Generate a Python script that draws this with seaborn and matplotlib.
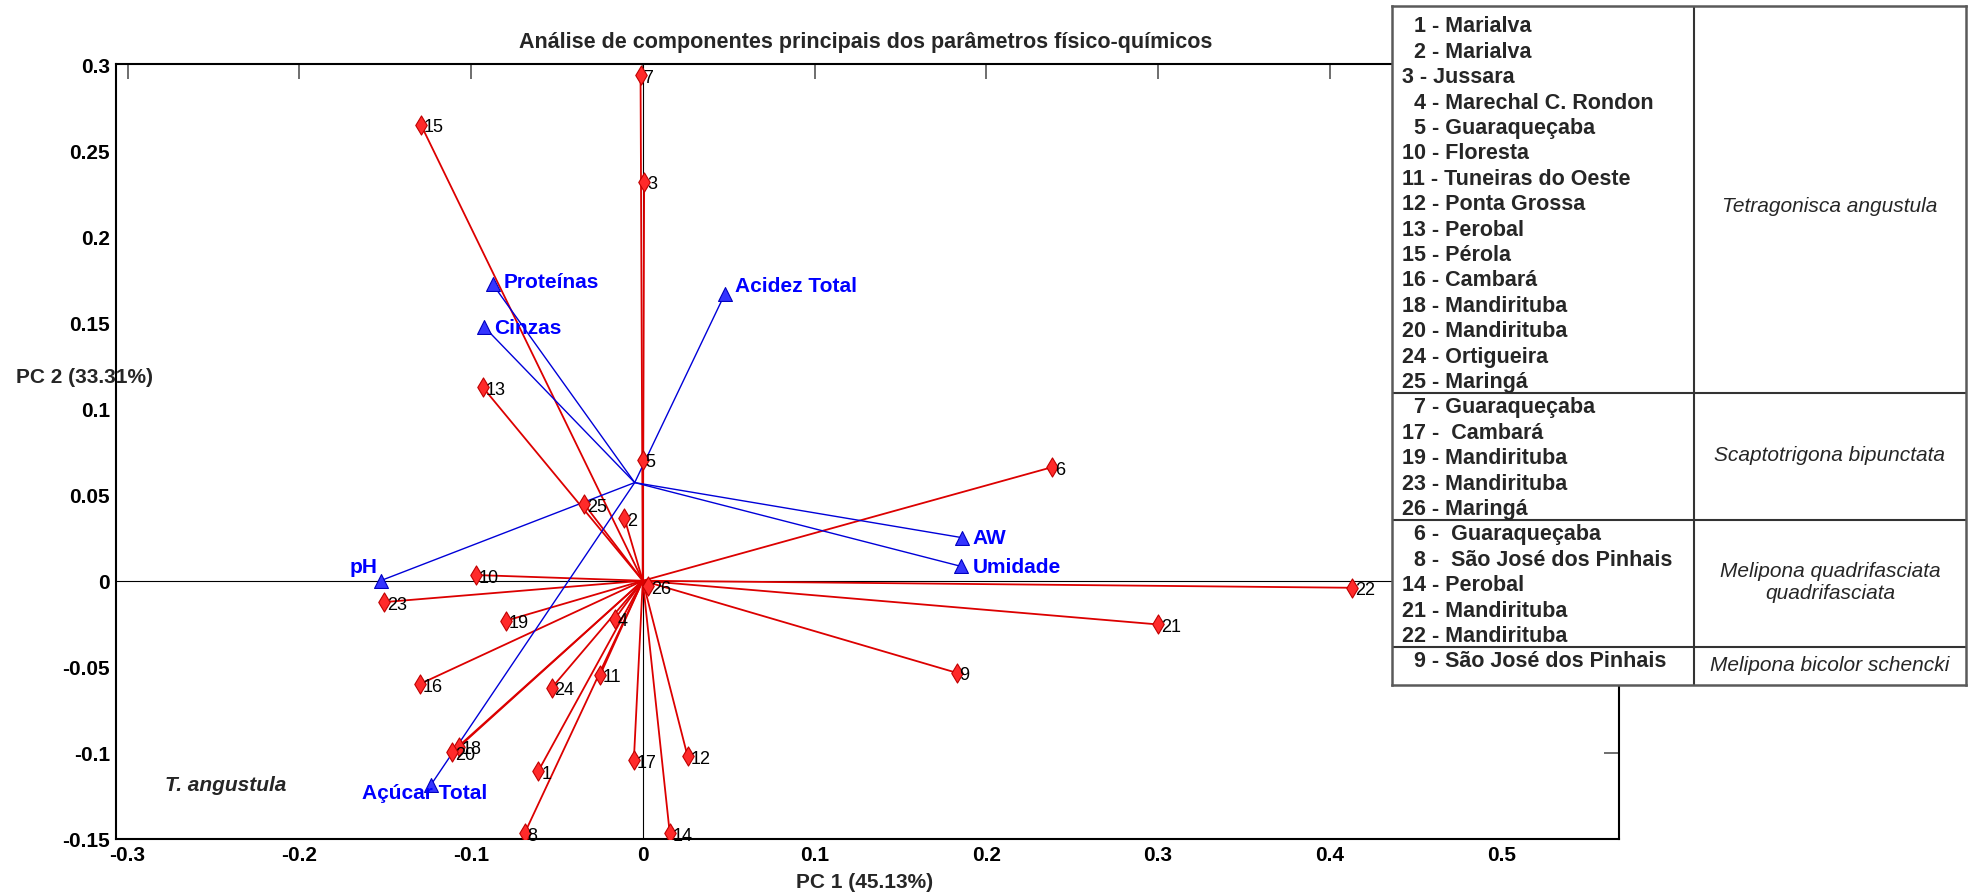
import matplotlib
matplotlib.use("Agg")
import matplotlib.pyplot as plt
import pandas as pd
import seaborn as sns

# ======================================================
# DATA
# ======================================================
SAMPLE_IDS = list(range(1, 27))
PC1 = [-0.0608, -0.0107, 0.0008, -0.0162, 0.0000, 0.2385, -0.0013, -0.0687,
       0.1828, -0.0971, -0.0248, 0.0261, -0.0932, 0.0157, -0.1292, -0.1300,
       -0.0052, -0.1070, -0.0799, -0.1110, 0.3000, 0.4130, -0.1504, -0.0530,
       -0.0342, 0.0031]
PC2 = [-0.1105, 0.0364, 0.2317, -0.0221, 0.0702, 0.0660, 0.2936, -0.1465,
       -0.0535, 0.0033, -0.0547, -0.1020, 0.1124, -0.1465, 0.2649, -0.0601,
       -0.1043, -0.0965, -0.0233, -0.0995, -0.0254, -0.0041, -0.0124, -0.0622,
       0.0446, -0.0031]

VAR_NAMES = ["Proteínas", "Cinzas", "Acidez Total", "pH", "AW", "Umidade", "Açúcar Total"]
VAR_PC1 = [-0.0875, -0.0922, 0.0478, -0.1527, 0.1860, 0.1855, -0.1235]
VAR_PC2 = [0.1724, 0.1473, 0.1666, 0.0000, 0.0250, 0.0083, -0.1188]
VAR_ORIGIN = (-0.0047, 0.0570)

X_TICKS = [-0.3, -0.2, -0.1, 0.0, 0.1, 0.2, 0.3, 0.4, 0.5]
X_TICK_LABELS = ["-0.3", "-0.2", "-0.1", "0", "0.1", "0.2", "0.3", "0.4", "0.5"]
Y_TICKS = [-0.15, -0.1, -0.05, 0.0, 0.05, 0.1, 0.15, 0.2, 0.25, 0.3]
Y_TICK_LABELS = ["-0.15", "-0.1", "-0.05", "0", "0.05", "0.1", "0.15", "0.2", "0.25", "0.3"]

TITLE = "Análise de componentes principais dos parâmetros físico-químicos"
XLABEL = "PC 1 (45.13%)"
YLABEL = "PC 2 (33.31%)"

GROUP_SPECIES = ["Tetragonisca angustula", "Scaptotrigona bipunctata",
                 "Melipona quadrifasciata\nquadrifasciata", "Melipona bicolor schencki"]
GROUP_ROWS = [
    ["  1 - Marialva", "  2 - Marialva", "3 - Jussara", "  4 - Marechal C. Rondon",
     "  5 - Guaraqueçaba", "10 - Floresta", "11 - Tuneiras do Oeste", "12 - Ponta Grossa",
     "13 - Perobal", "15 - Pérola", "16 - Cambará", "18 - Mandirituba",
     "20 - Mandirituba", "24 - Ortigueira", "25 - Maringá"],
    ["  7 - Guaraqueçaba", "17 -  Cambará", "19 - Mandirituba", "23 - Mandirituba",
     "26 - Maringá"],
    ["  6 -  Guaraqueçaba", "  8 -  São José dos Pinhais", "14 - Perobal",
     "21 - Mandirituba", "22 - Mandirituba"],
    ["  9 - São José dos Pinhais"],
]

# label placement for the variable vectors: (dx, dy in points, ha)
VAR_LABEL_POS = {
    "Proteínas": (8, 2, "left"),
    "Cinzas": (7, 0, "left"),
    "Acidez Total": (7, 6, "left"),
    "pH": (-2, 10, "right"),
    "AW": (7.5, 0, "left"),
    "Umidade": (8, 0, "left"),
    "Açúcar Total": (-4.5, -5, "center"),
}
# small vertical nudge (pixels) of the species names inside the table
SPECIES_DY = [8, 0, 0, 0]

RED_LINE = "#DC0000"
RED_FILL = "#FF2A2A"
RED_EDGE = "#C00000"
BLUE_LINE = "#0000D8"
BLUE_FILL = "#3535FF"
BLUE_EDGE = "#0000C0"

# ======================================================
# PLOT
# ======================================================
sns.set_style("white")
plt.rcParams["font.family"] = ["Liberation Sans", "DejaVu Sans"]
plt.rcParams["axes.unicode_minus"] = False

samples = pd.DataFrame({"id": SAMPLE_IDS, "PC1": PC1, "PC2": PC2})
variables = pd.DataFrame({"name": VAR_NAMES, "PC1": VAR_PC1, "PC2": VAR_PC2})

fig = plt.figure(figsize=(19.75, 8.95), dpi=100)
ax = fig.add_axes([0.0585, 0.0615, 0.7613, 0.8656])

ax.axhline(0, color="black", lw=0.8, zorder=1)
ax.axvline(0, color="black", lw=0.8, zorder=1)

# ---- sample vectors ----
for x, y in zip(samples["PC1"], samples["PC2"]):
    ax.plot([0, x], [0, y], color=RED_LINE, lw=1.3, zorder=2)

# ---- variable vectors ----
for x, y in zip(variables["PC1"], variables["PC2"]):
    ax.plot([VAR_ORIGIN[0], x], [VAR_ORIGIN[1], y], color=BLUE_LINE, lw=1.0, zorder=2)

sns.scatterplot(data=samples, x="PC1", y="PC2", marker="d", s=95,
                color=RED_FILL, edgecolor=RED_EDGE, linewidth=0.8, zorder=4, ax=ax)
sns.scatterplot(data=variables, x="PC1", y="PC2", marker="^", s=100,
                color=BLUE_FILL, edgecolor=BLUE_EDGE, linewidth=0.8, zorder=4, ax=ax)

for sid, x, y in zip(samples["id"], samples["PC1"], samples["PC2"]):
    ax.annotate(str(sid), (x, y), xytext=(2, -1.5), textcoords="offset points",
                ha="left", va="center", fontsize=13, color="black", zorder=5)

for name, x, y in zip(variables["name"], variables["PC1"], variables["PC2"]):
    dx, dy, ha = VAR_LABEL_POS[name]
    ax.annotate(name, (x, y), xytext=(dx, dy), textcoords="offset points",
                ha=ha, va="center", fontsize=15, fontweight="bold",
                color="#0000FF", zorder=5)

ax.text(-0.278, -0.1184, "T. angustula", ha="left", va="center", fontsize=15,
        fontweight="bold", fontstyle="italic")

ax.set_xlim(-0.307, 0.5685)
ax.set_ylim(-0.15, 0.3)
ax.set_xticks(X_TICKS)
ax.set_xticklabels(X_TICK_LABELS)
ax.set_yticks(Y_TICKS)
ax.set_yticklabels(Y_TICK_LABELS)
ax.tick_params(direction="in", length=11, width=1.2, color="#555555",
               labelcolor="black", labelsize=15, top=True, right=True, pad=4)
for lbl in ax.get_xticklabels() + ax.get_yticklabels():
    lbl.set_fontweight("bold")
ax.set_xlabel("")
ax.set_ylabel("")
for sp in ax.spines.values():
    sp.set_color("black")
    sp.set_linewidth(1.5)

fig.text(0.4385, 0.953, TITLE, ha="center", va="center", fontsize=15.5, fontweight="bold")
fig.text(0.438, 0.0145, XLABEL, ha="center", va="center", fontsize=15, fontweight="bold")
fig.text(0.043, 0.5777, YLABEL, ha="center", va="center", fontsize=15, fontweight="bold")

# ======================================================
# SAMPLE TABLE (overlaid on the top right)
# ======================================================
tx0, tx1, ty0, ty1 = 1392, 1966, 7, 686
col_split = 1694
row_top, row_step = 26, 25.4

tab = fig.add_axes([tx0 / 1975, 1 - ty1 / 895, (tx1 - tx0) / 1975, (ty1 - ty0) / 895])
tab.set_xlim(tx0, tx1)
tab.set_ylim(ty1, ty0)
tab.set_xticks([])
tab.set_yticks([])
tab.set_facecolor("white")
for sp in tab.spines.values():
    sp.set_color("#5a5a5a")
    sp.set_linewidth(1.8)
tab.axvline(col_split, color="#333333", lw=1.5)

i = 0
for g, (species, rows) in enumerate(zip(GROUP_SPECIES, GROUP_ROWS)):
    start = i
    for row in rows:
        tab.text(tx0 + 10.5, row_top + row_step * i + 1, row, ha="left", va="center",
                 fontsize=15.5, fontweight="bold")
        i += 1
    top = ty0 if g == 0 else row_top + row_step * start - row_step / 2
    bottom = ty1 if g == len(GROUP_ROWS) - 1 else row_top + row_step * (i - 1) + row_step / 2
    if g < len(GROUP_ROWS) - 1:
        tab.axhline(bottom, color="#333333", lw=1.5)
    tab.text((col_split + tx1) / 2, (top + bottom) / 2 - 2 + SPECIES_DY[g], species,
             ha="center", va="center", fontsize=15, fontstyle="italic", linespacing=1.2)

fig.savefig("out.png", dpi=100)
plt.close(fig)
